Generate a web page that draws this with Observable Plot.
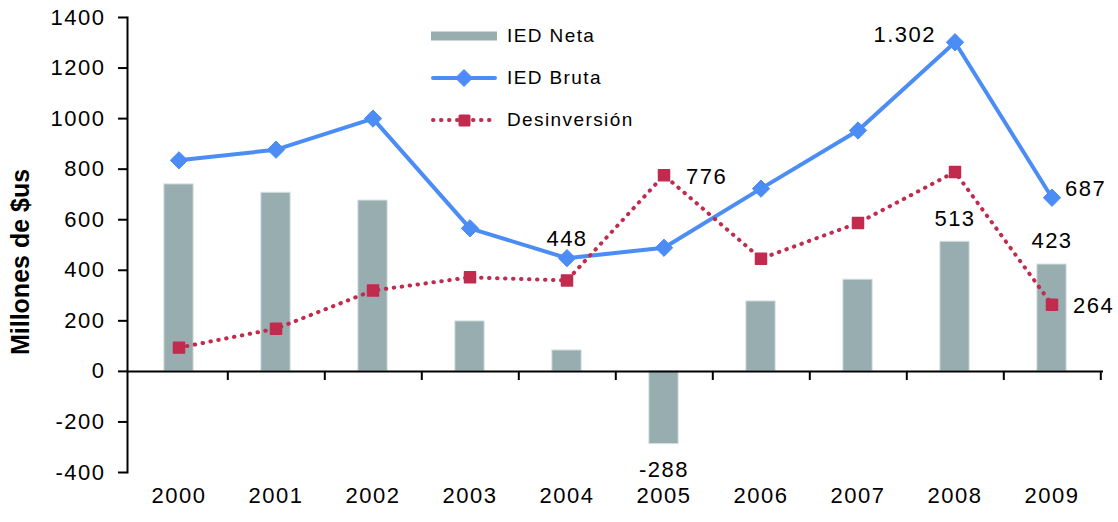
<!DOCTYPE html>
<html><head><meta charset="utf-8">
<script src="https://cdn.jsdelivr.net/npm/d3@7"></script>
<script src="https://cdn.jsdelivr.net/npm/@observablehq/plot@0.6"></script>
<style>
body{margin:0;background:#fff;font-family:"Liberation Sans",Arial,sans-serif;}
#wrap{position:relative;width:1118px;height:522px;}
#legend{position:absolute;left:0;top:0;font-size:19px;letter-spacing:1.4px;color:#000;}
.row{position:absolute;white-space:nowrap;display:flex;align-items:center;height:30px;}
.row span{margin-left:10px;}
</style>
</head><body>
<div id="wrap"><div id="chart"></div><div id="legend"></div></div>
<script>
const years = ["2000","2001","2002","2003","2004","2005","2006","2007","2008","2009"];
const iedNeta = [740, 707, 676, 198, 83, -288, 277, 363, 513, 423];
const iedBruta = [835, 877, 1000, 566, 448, 489, 723, 953, 1302, 687];
const desinversion = [94, 169, 320, 372, 360, 776, 446, 587, 789, 264];
const yTicks = [-400, -200, 0, 200, 400, 600, 800, 1000, 1200, 1400];
const seriesNames = ["IED Neta", "IED Bruta", "Desinversión"];
const yLabel = "Millones de $us";

const colGray = "#98adb0", colBlue = "#4b8df5", colRed = "#c12b4d";
const loc = d3.formatLocale({decimal: ",", thousands: ".", grouping: [3], currency: ["$", ""], minus: "-"});
const fmt = loc.format(",d");

const W = 1118, H = 522, ML = 127, MR = 15, MT = 17, MB = 50;
const bw = (W - ML - MR) / years.length;

function lbl(series, year, opts) {
  const i = years.indexOf(year);
  return Plot.text([i], {x: i => years[i], y: i => series[i], text: i => fmt(series[i]), fill: "#000", fontSize: 22, ...opts});
}

const plot = Plot.plot({
  width: W, height: H,
  marginLeft: ML, marginRight: MR, marginTop: MT, marginBottom: MB,
  style: {fontFamily: '"Liberation Sans", Arial, sans-serif', fontSize: "22px", letterSpacing: "1.5px", color: "#000", background: "#fff"},
  x: {type: "band", domain: years, padding: 0},
  y: {domain: [-400, 1400]},
  marks: [
    Plot.barY(years, {x: years, y: iedNeta, fill: colGray, stroke: "#dde6e6", strokeWidth: 1, insetLeft: (bw - 30) / 2, insetRight: (bw - 30) / 2}),
    Plot.ruleY([0], {stroke: "#000", strokeWidth: 2}),
    Plot.frame({anchor: "left", stroke: "#000", strokeWidth: 2}),
    Plot.ruleX(years, {x: years, y1: 0, y2: -36, dx: bw / 2, stroke: "#000", strokeWidth: 2}),
    Plot.axisY({ticks: yTicks, tickSize: 9, tickPadding: 13, tickFormat: d => String(d), fontSize: 22, label: null, strokeWidth: 2}),
    Plot.axisX({tickSize: 0, tickPadding: 15, fontSize: 22, label: null}),
    Plot.line(years, {x: years, y: iedBruta, stroke: colBlue, strokeWidth: 4}),
    Plot.line(years, {x: years, y: desinversion, stroke: colRed, strokeWidth: 4, strokeDasharray: "0.5 7.5", strokeLinecap: "round"}),
    Plot.dot(years, {x: years, y: iedBruta, symbol: "diamond2", r: 7.8, fill: colBlue, stroke: colBlue, strokeWidth: 1, strokeLinejoin: "round"}),
    Plot.dot(years, {x: years, y: desinversion, symbol: "square", r: 6.2, fill: colRed, stroke: colRed, strokeWidth: 1.5, strokeLinejoin: "round"}),
    lbl(iedBruta, "2004", {dy: -19}),
    lbl(desinversion, "2005", {textAnchor: "start", dx: 22, dy: 2}),
    lbl(iedBruta, "2008", {textAnchor: "end", dx: -19, dy: -7}),
    lbl(iedBruta, "2009", {textAnchor: "start", dx: 13, dy: -9}),
    lbl(iedNeta, "2008", {dy: -23}),
    lbl(iedNeta, "2009", {dy: -24}),
    lbl(desinversion, "2009", {textAnchor: "start", dx: 21, dy: 1}),
    lbl(iedNeta, "2005", {dy: 26}),
    Plot.text([yLabel], {frameAnchor: "left", textAnchor: "middle", lineAnchor: "middle", rotate: -90, dx: -107, dy: 17, fontSize: 25, fontWeight: "bold", fill: "#000"})
  ]
});
document.getElementById("chart").appendChild(plot);
plot.querySelectorAll("text").forEach(t => { if (t.textContent === yLabel) t.style.letterSpacing = "0px"; });

// legend
const legend = document.getElementById("legend");
const rowsY = [36, 78, 120];
const swatches = [
  `<svg width="66" height="30"><rect x="0" y="10.5" width="66" height="9" fill="${colGray}"/></svg>`,
  `<svg width="66" height="30"><line x1="2" y1="15" x2="64" y2="15" stroke="${colBlue}" stroke-width="4" stroke-linecap="round"/><path d="M33 6.5 L41.5 15 L33 23.5 L24.5 15 Z" fill="${colBlue}" stroke="${colBlue}" stroke-linejoin="round"/></svg>`,
  `<svg width="66" height="30"><line x1="2" y1="15" x2="64" y2="15" stroke="${colRed}" stroke-width="4" stroke-dasharray="0.5 7.5" stroke-linecap="round"/><rect x="27.5" y="9.5" width="12" height="12" rx="1.5" fill="${colRed}"/></svg>`
];
seriesNames.forEach((n, i) => {
  const r = document.createElement("div");
  r.className = "row";
  r.style.left = "431px";
  r.style.top = (rowsY[i] - 15) + "px";
  r.innerHTML = swatches[i] + `<span>${n}</span>`;
  legend.appendChild(r);
});
</script>
</body></html>
